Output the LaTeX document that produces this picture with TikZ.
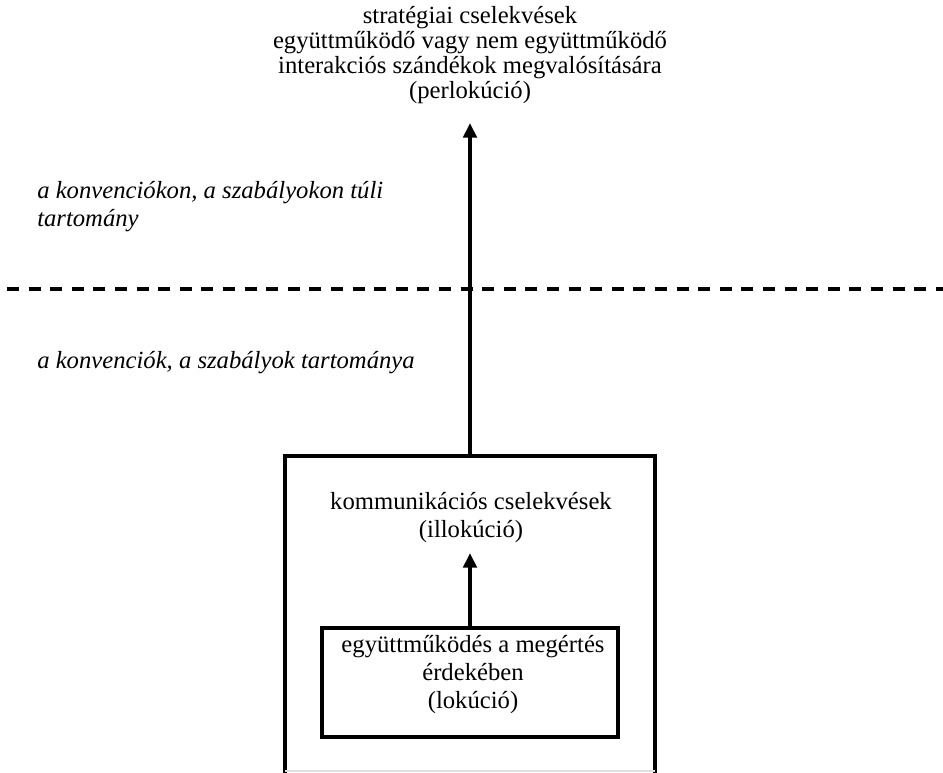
\documentclass[tikz,border=0pt]{standalone}
\usepackage{fontspec}
\setmainfont{Liberation Serif}
\usetikzlibrary{arrows.meta}
\begin{document}
\begin{tikzpicture}[x=0.75pt,y=-0.75pt,
  txt/.style={inner sep=0pt, align=center, font=\fontsize{18.5pt}{21pt}\selectfont},
  toptxt/.style={inner sep=0pt, align=center, font=\fontsize{18.5pt}{18.75pt}\selectfont},
  itxt/.style={inner sep=0pt, align=left, font=\fontsize{18.5pt}{21pt}\selectfont\itshape},
  boxline/.style={line width=3pt, line cap=rect},
  innerbox/.style={draw, line width=3pt, inner sep=0pt, minimum width=222pt, minimum height=81.75pt},
  arr/.style={line width=3pt, -{Triangle[length=11pt,width=10pt]}},
  sep/.style={line width=2.6pt, dash pattern=on 9pt off 7.2pt}]
\useasboundingbox (0,0) rectangle (943,772);

% top text
\node[toptxt] (perlok) at (470,55) {strat\'egiai cselekv\'esek\\egy\"uttm\H{u}k\"od\H{o} vagy nem egy\"uttm\H{u}k\"od\H{o}\\interakci\'os sz\'and\'ekok megval\'os\'it\'as\'ara\\(perlok\'uci\'o)};

% italic labels
\node[itxt, anchor=west] (tuli) at (37,207) {a konvenci\'okon, a szab\'alyokon t\'uli\\tartom\'any};
\node[itxt, anchor=base west] (konv) at (37,368) {a konvenci\'ok, a szab\'alyok tartom\'anya};

% dashed separator
\coordinate (sepL) at (7,289);
\coordinate (sepR) at (943,289);
\draw[sep] (sepL) -- (sepR);

% outer box (open at bottom)
\coordinate (obl) at (285,772);
\coordinate (otl) at (285,456);
\coordinate (otm) at (470,456);
\coordinate (otr) at (655,456);
\coordinate (obr) at (655,772);
\draw[boxline] (obl) -- (otl) -- (otr) -- (obr);
\coordinate (fbl) at (285,771);
\coordinate (fbr) at (655,771);
\draw[black!12, line width=0.8pt] (fbl) -- (fbr);

% main arrow
\coordinate (toptip) at (470,123);
\draw[arr] (otm) -- (toptip);

% illocution text
\node[txt] (illok) at (471,518) {kommunik\'aci\'os cselekv\'esek\\(illok\'uci\'o)};

% inner box
\node[innerbox] (inner) at (470,682.5) {};
\node[txt] (lok) at (473,675) {egy\"uttm\H{u}k\"od\'es a meg\'ert\'es\\\'erdek\'eben\\(lok\'uci\'o)};

% inner arrow
\coordinate (intip) at (470,553);
\draw[arr] (inner.north) -- (intip);
\end{tikzpicture}
\end{document}
